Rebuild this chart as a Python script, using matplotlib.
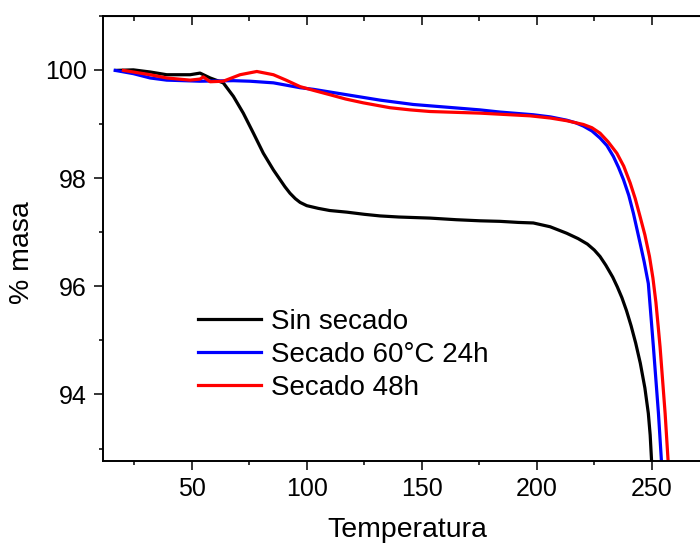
import numpy as np
import matplotlib.pyplot as plt
from matplotlib.ticker import MultipleLocator

plt.rcParams['font.family'] = ['Liberation Sans', 'DejaVu Sans']

# TGA curves: temperature (°C) vs % mass
t_sin = [17.1, 24.6, 32.0, 39.1, 49.3, 53.6, 58.0, 63.7, 68.1, 72.4, 76.8, 81.1, 85.5,
         88.4, 90.5, 92.7, 95.0, 97.1, 100.0, 105.0, 110.0, 117.4, 125.0, 131.9, 140.0,
         153.6, 165.0, 175.3, 184.0, 192.0, 198.5, 205.8, 213.0, 218.0, 222.0, 225.0,
         227.5, 230.0, 233.0, 235.0, 237.0, 239.0, 241.0, 243.0, 245.0, 247.0, 248.5,
         249.3, 250.0]
m_sin = [99.99, 100.0, 99.96, 99.91, 99.91, 99.94, 99.85, 99.76, 99.51, 99.20, 98.83, 98.46, 98.15,
         97.97, 97.84, 97.72, 97.62, 97.55, 97.49, 97.44, 97.40, 97.37, 97.33, 97.30, 97.28,
         97.26, 97.23, 97.21, 97.20, 97.18, 97.17, 97.10, 96.98, 96.88, 96.78, 96.67,
         96.55, 96.39, 96.17, 95.99, 95.79, 95.55, 95.27, 94.95, 94.58, 94.12, 93.65,
         93.25, 92.70]

t_60 = [16.7, 24.6, 31.9, 39.1, 53.6, 68.1, 75.3, 85.5, 97.1, 102.9, 117.4, 131.9,
        146.3, 160.9, 175.3, 184.0, 198.5, 206.0, 213.0, 217.0, 220.3, 224.0, 227.5, 230.5,
        233.3, 235.5, 237.7, 240.0, 242.0, 244.9, 246.7, 248.5, 249.5, 250.7, 252.9, 254.3]
m_60 = [99.99, 99.93, 99.85, 99.81, 99.79, 99.80, 99.79, 99.76, 99.67, 99.64, 99.54, 99.44,
        99.36, 99.31, 99.26, 99.22, 99.17, 99.13, 99.07, 99.02, 98.96, 98.87, 98.74, 98.60,
        98.40, 98.20, 97.97, 97.68, 97.35, 96.80, 96.45, 96.05, 95.52, 94.88, 93.65, 92.70]

t_48 = [20.3, 31.9, 39.1, 49.3, 53.6, 55.0, 58.0, 63.7, 71.0, 78.3, 85.5, 91.0, 97.1,
        103.0, 110.1, 117.0, 124.6, 136.2, 145.0, 153.6, 175.3, 197.1, 205.8, 213.0,
        220.3, 224.0, 227.5, 231.0, 234.8, 237.8, 240.6, 242.8, 244.9, 247.0, 249.0,
        250.5, 251.8, 252.8, 253.6, 255.8, 257.2]
m_48 = [99.99, 99.91, 99.85, 99.81, 99.83, 99.87, 99.78, 99.79, 99.91, 99.97, 99.91, 99.81, 99.69,
        99.62, 99.54, 99.46, 99.39, 99.30, 99.26, 99.23, 99.20, 99.15, 99.11, 99.06,
        98.99, 98.93, 98.83, 98.67, 98.46, 98.22, 97.91, 97.62, 97.29, 96.95, 96.55,
        96.15, 95.70, 95.25, 94.88, 93.65, 92.70]

labels = ['Sin secado', 'Secado 60°C 24h', 'Secado 48h']
colors = ['black', 'blue', 'red']

fig = plt.figure(figsize=(7, 5.45), dpi=100)
ax = fig.add_axes([0.1471, 0.1541, 0.8826, 0.817])

for t, m, lab, c in zip([t_sin, t_60, t_48], [m_sin, m_60, m_48], labels, colors):
    ax.plot(t, m, color=c, lw=2.3, label=lab, solid_joinstyle='round')

ax.set_xlim(11.4, 280)
ax.set_ylim(92.77, 101.0)
ax.xaxis.set_major_locator(MultipleLocator(50))
ax.xaxis.set_minor_locator(MultipleLocator(25))
ax.yaxis.set_major_locator(MultipleLocator(2))
ax.yaxis.set_minor_locator(MultipleLocator(1))

for s in ax.spines.values():
    s.set_linewidth(1.4)
ax.tick_params(which='both', direction='out', width=1.1, labelsize=18, top=False, right=False)
ax.tick_params(which='major', length=6.5, pad=5)
ax.tick_params(which='minor', length=3.2)

# inward ticks on the top spine
top = ax.secondary_xaxis('top')
top.xaxis.set_major_locator(MultipleLocator(50))
top.xaxis.set_minor_locator(MultipleLocator(25))
top.tick_params(which='both', direction='in', width=1.1, labeltop=False)
top.tick_params(which='major', length=6.5)
top.tick_params(which='minor', length=3.5)

ax.set_xlabel('Temperatura', fontsize=20.5)
ax.set_ylabel('% masa', fontsize=20.5)
ax.xaxis.set_label_coords(0.493, -0.126)
ax.yaxis.set_label_coords(-0.110, 0.469)

ax.legend(loc='upper left', bbox_to_anchor=(0.154, 0.342), frameon=False, fontsize=20,
          handlelength=2.25, handletextpad=0.37, labelspacing=0.26, borderpad=0, borderaxespad=0)

fig.savefig('out.png', dpi=100)
